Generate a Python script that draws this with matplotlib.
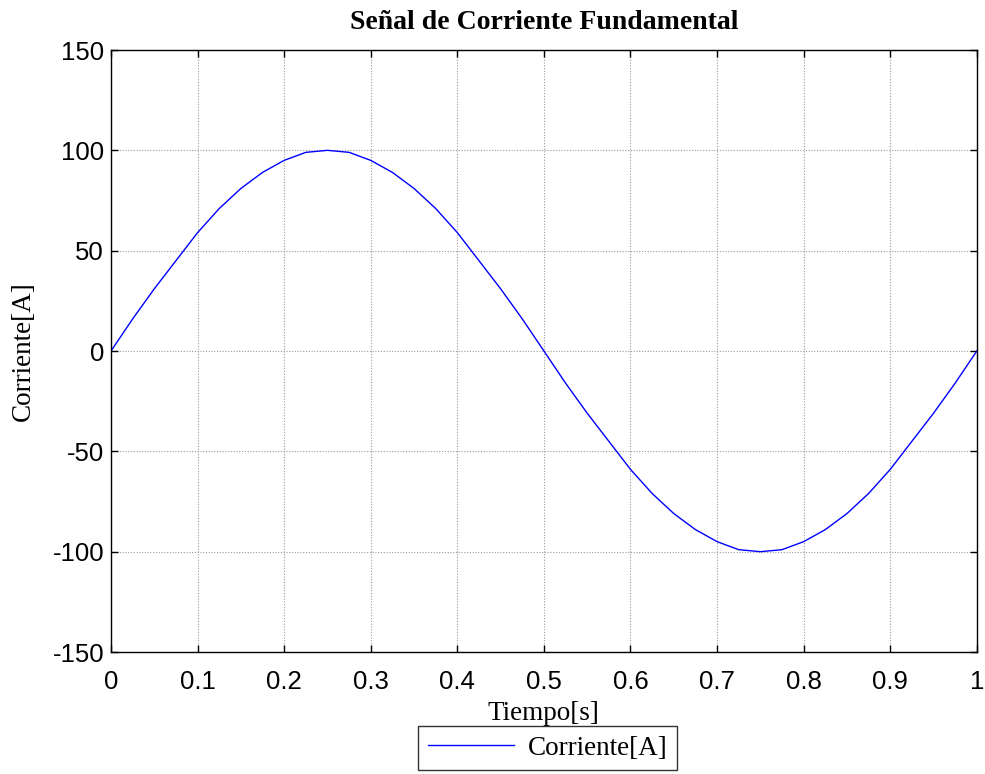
import matplotlib
matplotlib.use('Agg')
import matplotlib.pyplot as plt

# valores (cada 0.025 s)
tiempo = [i * 0.025 for i in range(41)]
corriente = [0, 16, 31, 45, 59, 71, 81, 89, 95, 99, 100, 99, 95, 89, 81, 71, 59, 45, 31, 16,
             0, -16, -31, -45, -59, -71, -81, -89, -95, -99, -100, -99, -95, -89, -81, -71,
             -59, -45, -31, -16, 0]
xticks = [0, 0.1, 0.2, 0.3, 0.4, 0.5, 0.6, 0.7, 0.8, 0.9, 1]
xticklabels = ['0', '0.1', '0.2', '0.3', '0.4', '0.5', '0.6', '0.7', '0.8', '0.9', '1']
yticks = [-150, -100, -50, 0, 50, 100, 150]
yticklabels = ['-150', '-100', '-50', '0', '50', '100', '150']

fig = plt.figure(figsize=(9.85, 7.74), dpi=100)
ax = fig.add_axes([0.1127, 0.1576, 0.879, 0.7778])

linea, = ax.plot(tiempo, corriente, color='#0000ff', lw=1.0)

ax.set_xlim(0, 1)
ax.set_ylim(-150, 150)
ax.set_xticks(xticks)
ax.set_xticklabels(xticklabels)
ax.set_yticks(yticks)
ax.set_yticklabels(yticklabels)
ax.tick_params(direction='in', length=5, width=1, top=True, right=True, labelsize=18.5)
ax.tick_params(axis='x', pad=13)
ax.tick_params(axis='y', pad=5)
for lab in ax.get_xticklabels() + ax.get_yticklabels():
    lab.set_family('Liberation Sans')
ax.grid(True, color='#9a9a9a', linestyle=(0, (1, 1.5)), linewidth=0.8)
for s in ax.spines.values():
    s.set_linewidth(1.0)

ax.set_title('Señal de Corriente Fundamental', family='Liberation Serif',
             fontweight='bold', fontsize=20, pad=15)
ax.set_xlabel('Tiempo[s]', family='Liberation Serif', fontsize=19.5, labelpad=5)
ax.set_ylabel('Corriente[A]', family='Liberation Serif', fontsize=19.5, labelpad=12)

leg = fig.legend([linea], ['Corriente[A]'], loc='center', bbox_to_anchor=(0.556, 0.033),
                 prop={'family': 'Liberation Serif', 'size': 19.5}, frameon=True,
                 fancybox=False, edgecolor='black', handlelength=3.2,
                 borderpad=0.35, handletextpad=0.5, borderaxespad=0)
leg.get_frame().set_linewidth(1.0)

fig.savefig('out.png', dpi=100)
